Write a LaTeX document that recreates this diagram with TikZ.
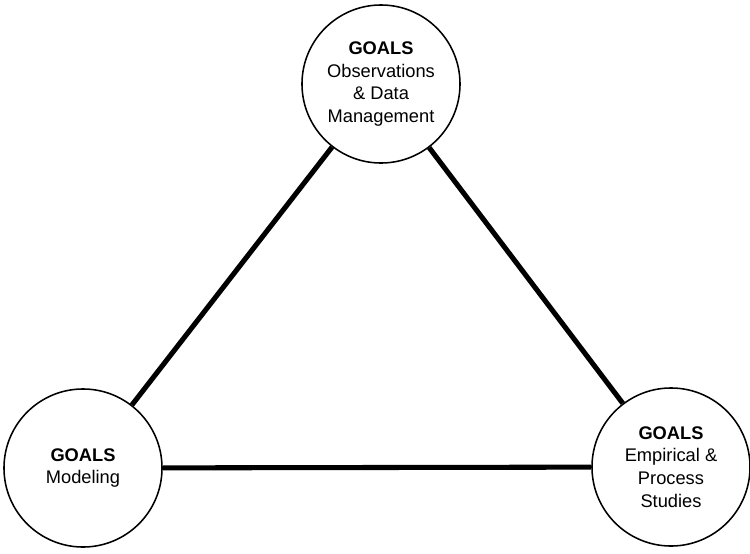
\documentclass[tikz,border=0pt]{standalone}
\usepackage{fontspec}
\setmainfont{Liberation Sans}

\begin{document}
\begin{tikzpicture}[
    x=0.025cm, y=-0.025cm,
    Goal/.style={circle,draw,line width=1.1pt,minimum size=3.95cm,inner sep=0pt,align=center,fill=white,
      font=\fontsize{13}{16.2}\selectfont},
    Link/.style={line width=3.6pt},
    ]

    \useasboundingbox (0,0) rectangle (750,553);

    \node[Goal] at (381,84)  (Obs) {\textbf{GOALS}\\Observations\\\& Data\\Management};
    \node[Goal] at (83,468)  (Mod) {\textbf{GOALS}\\Modeling};
    \node[Goal] at (671,467) (Emp) {\textbf{GOALS}\\Empirical \&\\Process\\Studies};

    \draw[Link] (Obs) -- (Mod);
    \draw[Link] (Mod) -- (Emp);
    \draw[Link] (Obs) -- (Emp);
  \end{tikzpicture}
\end{document}
